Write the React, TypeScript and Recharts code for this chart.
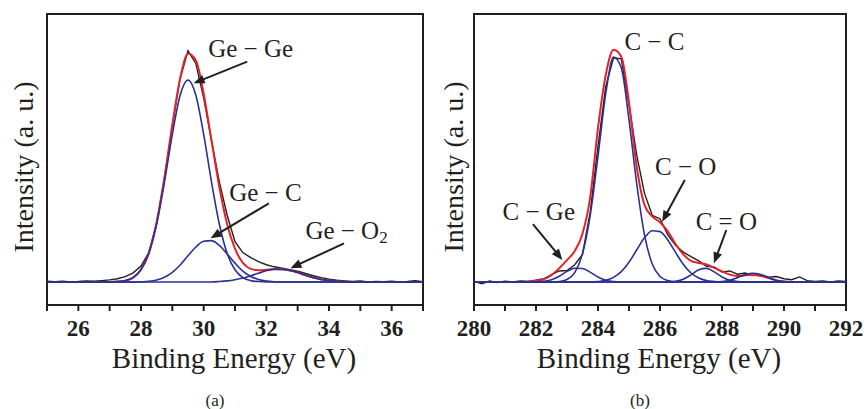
import React from "react";
import {
  LineChart, Line, XAxis, YAxis, ReferenceArea, ReferenceLine, ReferenceDot
} from "recharts";

// (a) Ge 3d region
const energyA = [25, 25.25, 25.5, 25.75, 26, 26.25, 26.5, 26.75, 27, 27.25, 27.5, 27.75, 28, 28.25, 28.5, 28.75, 29, 29.25, 29.5, 29.75, 30, 30.25, 30.5, 30.75, 31, 31.25, 31.5, 31.75, 32, 32.25, 32.5, 32.75, 33, 33.25, 33.5, 33.75, 34, 34.25, 34.5, 34.75, 35, 35.25, 35.5, 35.75, 36, 36.25, 36.5, 36.75, 37];
const rawA = [0.4, 0.1, 0.3, 0.0, 0.2, 0.5, 0.3, 0.6, 0.9, 1.4, 2.3, 4.0, 6.9, 12.8, 25.5, 45.0, 68.0, 88.5, 100.5, 95.0, 80.0, 61.5, 43.5, 29.0, 17.5, 12.8, 10.6, 8.9, 7.5, 6.6, 6.0, 5.4, 4.7, 3.7, 2.7, 1.9, 1.2, 0.8, 0.5, 0.2, 0.4, 0.0, 0.2, 0.1, 0.3, 0.0, 0.2, 0.6, 0.1];
const fitA = [0, 0, 0, 0, 0, 0, 0, 0, 0, 0.2, 0.6, 1.9, 5.4, 12.7, 26.1, 45.6, 68.4, 88.6, 99.2, 96.4, 81.9, 61.5, 41.3, 25.1, 14.5, 8.3, 5.7, 5.1, 5.3, 5.6, 5.5, 5.0, 4.1, 2.9, 1.9, 1.1, 0.6, 0.3, 0.1, 0, 0, 0, 0, 0, 0, 0, 0, 0, 0];
const geGe = [0, 0, 0, 0, 0, 0, 0, 0, 0, 0.2, 0.6, 1.9, 5.3, 12.4, 25.2, 43.5, 64.2, 81.2, 87.8, 81.2, 64.2, 43.5, 25.2, 12.4, 5.3, 1.9, 0.6, 0.2, 0, 0, 0, 0, 0, 0, 0, 0, 0, 0, 0, 0, 0, 0, 0, 0, 0, 0, 0, 0, 0];
const geC = [0, 0, 0, 0, 0, 0, 0, 0, 0, 0, 0, 0, 0.1, 0.3, 0.9, 2.1, 4.2, 7.4, 11.4, 15.2, 17.7, 18.0, 15.9, 12.2, 8.2, 4.7, 2.4, 1.1, 0.4, 0.1, 0, 0, 0, 0, 0, 0, 0, 0, 0, 0, 0, 0, 0, 0, 0, 0, 0, 0, 0];
const geO2 = [0, 0, 0, 0, 0, 0, 0, 0, 0, 0, 0, 0, 0, 0, 0, 0, 0, 0, 0, 0, 0, 0, 0.2, 0.5, 1.0, 1.7, 2.7, 3.8, 4.9, 5.5, 5.5, 5.0, 4.1, 2.9, 1.9, 1.1, 0.6, 0.3, 0.1, 0, 0, 0, 0, 0, 0, 0, 0, 0, 0];
const ticksA = [25, 26, 27, 28, 29, 30, 31, 32, 33, 34, 35, 36, 37];

// (b) C 1s region
const energyB = [280, 280.25, 280.5, 280.75, 281, 281.25, 281.5, 281.75, 282, 282.25, 282.5, 282.75, 283, 283.25, 283.5, 283.75, 284, 284.25, 284.5, 284.75, 285, 285.25, 285.5, 285.75, 286, 286.25, 286.5, 286.75, 287, 287.25, 287.5, 287.75, 288, 288.25, 288.5, 288.75, 289, 289.25, 289.5, 289.75, 290, 290.25, 290.5, 290.75, 291, 291.25, 291.5, 291.75, 292];
const rawB = [0.3, -0.8, 0.4, -0.2, 0.3, 0.0, 0.5, 0.2, 0.8, 1.4, 3.2, 4.8, 5.0, 7.5, 12.0, 30.5, 59.0, 85.0, 97.5, 97.0, 77.0, 55.0, 38.5, 29.0, 27.5, 20.5, 16.0, 13.0, 11.0, 9.2, 6.8, 6.5, 4.3, 4.8, 3.4, 3.9, 2.8, 3.2, 2.1, 2.4, 1.4, 1.0, 2.2, 0.6, 0.2, 0.5, 0.0, 0.4, 0.2];
const fitB = [0, 0, 0, 0, 0, 0, 0, 0.2, 0.5, 1.2, 3.0, 6.0, 9.5, 13.5, 21.0, 37.0, 67.0, 90.0, 101.0, 98.0, 78.0, 50.0, 33.5, 28.5, 26.0, 22.0, 16.5, 12.0, 9.2, 8.3, 7.6, 6.2, 4.6, 3.2, 2.6, 2.9, 3.0, 2.6, 1.7, 0.7, 0.2, 0, 0, 0, 0, 0, 0, 0, 0];
const cGe = [0, 0, 0, 0, 0, 0, 0, 0, 0.1, 0.3, 1.0, 2.5, 4.6, 6.0, 5.9, 4.2, 2.2, 0.8, 0.2, 0, 0, 0, 0, 0, 0, 0, 0, 0, 0, 0, 0, 0, 0, 0, 0, 0, 0, 0, 0, 0, 0, 0, 0, 0, 0, 0, 0, 0, 0];
const cC = [0, 0, 0, 0, 0, 0, 0, 0, 0, 0, 0, 0.2, 1.1, 4.1, 12.3, 29.1, 54.7, 81.9, 97.8, 93.1, 70.5, 42.6, 20.5, 7.8, 2.4, 0.6, 0.1, 0, 0, 0, 0, 0, 0, 0, 0, 0, 0, 0, 0, 0, 0, 0, 0, 0, 0, 0, 0, 0, 0];
const cO = [0, 0, 0, 0, 0, 0, 0, 0, 0, 0, 0, 0, 0, 0, 0, 0, 0.2, 0.7, 2.0, 4.5, 8.6, 14.0, 19.2, 22.3, 21.9, 18.3, 12.9, 7.7, 3.9, 1.7, 0.6, 0.2, 0, 0, 0, 0, 0, 0, 0, 0, 0, 0, 0, 0, 0, 0, 0, 0, 0];
const cdO = [0, 0, 0, 0, 0, 0, 0, 0, 0, 0, 0, 0, 0, 0, 0, 0, 0, 0, 0, 0, 0, 0, 0, 0, 0, 0, 0.3, 1.2, 3.1, 5.3, 5.9, 4.4, 2.2, 0.7, 0.2, 0, 0, 0, 0, 0, 0, 0, 0, 0, 0, 0, 0, 0, 0];
const cX = [0, 0, 0, 0, 0, 0, 0, 0, 0, 0, 0, 0, 0, 0, 0, 0, 0, 0, 0, 0, 0, 0, 0, 0, 0, 0, 0, 0, 0, 0, 0, 0, 0.2, 0.8, 1.9, 3.2, 3.8, 3.2, 1.9, 0.8, 0.2, 0, 0, 0, 0, 0, 0, 0, 0];
const ticksB = [280, 281, 282, 283, 284, 285, 286, 287, 288, 289, 290, 291, 292];

// annotations, in data units
const labelsA = [
  { x: 31.5, y: 101.3, text: "Ge − Ge" },
  { x: 31.97, y: 38.7, text: "Ge − C" },
  { x: 34.56, y: 22.6, text: "Ge − O", sub: "2" },
];
const arrowsA = [
  { x1: 31.39, y1: 95.8, x2: 29.68, y2: 86.4 },
  { x1: 32.08, y1: 34.2, x2: 30.22, y2: 19.0 },
  { x1: 34.48, y1: 16.8, x2: 32.77, y2: 6.0 },
];
const labelsB = [
  { x: 285.82, y: 104.5, text: "C − C" },
  { x: 286.83, y: 50.1, text: "C − O" },
  { x: 282.09, y: 30.6, text: "C − Ge" },
  { x: 288.14, y: 26.2, text: "C = O" },
];
const arrowsB = [
  { x1: 286.8, y1: 44.3, x2: 286.07, y2: 26.2 },
  { x1: 281.9, y1: 25.2, x2: 282.85, y2: 9.6 },
  { x1: 288.14, y1: 22.6, x2: 287.74, y2: 8.1 },
];

const FONT = "'Times New Roman', Times, 'Liberation Serif', 'Noto Serif', 'DejaVu Serif', serif";
const TICK_FONT = "'Times New Roman', 'Liberation Serif', 'Noto Sans', sans-serif";
const INK = "#231f20";
const RED = "#e3232b";
const BLUE = "#2a3094";
const Y_DOMAIN: [number, number] = [-10, 116.5];

function Arrow(props: any) {
  const { x1, y1, x2, y2 } = props;
  const dx = x2 - x1;
  const dy = y2 - y1;
  const len = Math.hypot(dx, dy) || 1;
  const ux = dx / len;
  const uy = dy / len;
  const hl = 11;
  const hw = 4.5;
  const bx = x2 - ux * hl;
  const by = y2 - uy * hl;
  return (
    <g>
      <line x1={x1} y1={y1} x2={bx + ux * 2} y2={by + uy * 2} stroke={INK} strokeWidth={2} />
      <polygon
        points={`${x2},${y2} ${bx - uy * hw},${by + ux * hw} ${bx + uy * hw},${by - ux * hw}`}
        fill={INK}
      />
    </g>
  );
}

function EvenTick(props: any) {
  const { x, y, payload } = props;
  if (payload.value % 2 !== 0) return <g />;
  return (
    <text x={x} y={y + 15} textAnchor="middle" dominantBaseline="central"
      fontFamily={TICK_FONT} fontWeight={700} fontSize={23} fill={INK}>
      {payload.value}
    </text>
  );
}

function titles(panel: string, yDx: number) {
  return (props: any) => {
    const { x, width } = props.viewBox;
    const cx = x + width / 2;
    const ty = x + yDx;
    return (
      <g fill={INK}>
        <text x={cx - 1} y={358} textAnchor="middle" dominantBaseline="central"
          style={{ fontFamily: FONT, fontSize: 29 }}>
          Binding Energy (eV)
        </text>
        <text x={ty} y={167} textAnchor="middle" dominantBaseline="central"
          style={{ fontFamily: FONT, fontSize: 28 }}
          transform={`rotate(-90 ${ty} 167)`}>
          Intensity (a. u.)
        </text>
        <text x={cx - 20} y={400} textAnchor="middle" dominantBaseline="central"
          style={{ fontFamily: FONT, fontSize: 17 }}>
          ({panel})
        </text>
      </g>
    );
  };
}

function Panel({ rows, domain, ticks, series, labels, arrows, panel, left, margin, yDx }: any) {
  return (
    <div style={{ position: "absolute", left, top: 0 }}>
      <LineChart width={433} height={409} data={rows} margin={margin}>
        <XAxis dataKey="e" type="number" domain={domain} ticks={ticks} interval={0}
          allowDataOverflow axisLine={false} tickSize={6}
          tickLine={{ stroke: INK, strokeWidth: 2 }} tick={<EvenTick />}
          label={{ content: titles(panel, yDx) }} />
        <YAxis type="number" domain={Y_DOMAIN} allowDataOverflow hide />
        <Line dataKey="raw" type="linear" stroke={INK} strokeWidth={1.4} dot={false}
          activeDot={false} isAnimationActive={false} />
        <Line dataKey="fit" type="monotone" stroke={RED} strokeWidth={2} dot={false}
          activeDot={false} isAnimationActive={false} />
        {series.map((k: string) => (
          <Line key={k} dataKey={k} type="monotone" stroke={BLUE} strokeWidth={1.6} dot={false}
            activeDot={false} isAnimationActive={false} />
        ))}
        <ReferenceArea x1={domain[0]} x2={domain[1]} y1={Y_DOMAIN[0]} y2={Y_DOMAIN[1]}
          fill="none" fillOpacity={0} stroke={INK} strokeWidth={2} ifOverflow="visible" />
        {arrows.map((a: any, i: number) => (
          <ReferenceLine key={"a" + i} segment={[{ x: a.x1, y: a.y1 }, { x: a.x2, y: a.y2 }]}
            ifOverflow="visible" shape={(p: any) => <Arrow {...p} />} />
        ))}
        {labels.map((l: any, i: number) => (
          <ReferenceDot key={"l" + i} x={l.x} y={l.y} r={1} ifOverflow="visible"
            shape={(p: any) => (
              <text x={p.cx} y={p.cy} textAnchor="middle" dominantBaseline="central"
                style={{ fontFamily: FONT, fontSize: 25 }} fill={INK}>
                {l.text}
                {l.sub ? <tspan dy={7} style={{ fontSize: 17 }}>{l.sub}</tspan> : null}
              </text>
            )} />
        ))}
      </LineChart>
    </div>
  );
}

export default function App() {
  const rowsA = energyA.map((e, i) => ({
    e, raw: rawA[i], fit: fitA[i], geGe: geGe[i], geC: geC[i], geO2: geO2[i],
  }));
  const rowsB = energyB.map((e, i) => ({
    e, raw: rawB[i], fit: fitB[i], cGe: cGe[i], cC: cC[i], cO: cO[i], cdO: cdO[i], cX: cX[i],
  }));

  return (
    <div style={{
      position: "absolute", left: 0, top: 0, width: 866, height: 409,
      background: "#fff", fontFamily: FONT,
    }}>
      <Panel rows={rowsA} domain={[25, 37]} ticks={ticksA} series={["geGe", "geC", "geO2"]}
        labels={labelsA} arrows={arrowsA} panel="a" left={0} yDx={-24}
        margin={{ top: 14, right: 10, left: 47, bottom: 74 }} />
      <Panel rows={rowsB} domain={[280, 292]} ticks={ticksB} series={["cGe", "cC", "cO", "cdO", "cX"]}
        labels={labelsB} arrows={arrowsB} panel="b" left={433} yDx={-21}
        margin={{ top: 14, right: 20, left: 41, bottom: 74 }} />
    </div>
  );
}
